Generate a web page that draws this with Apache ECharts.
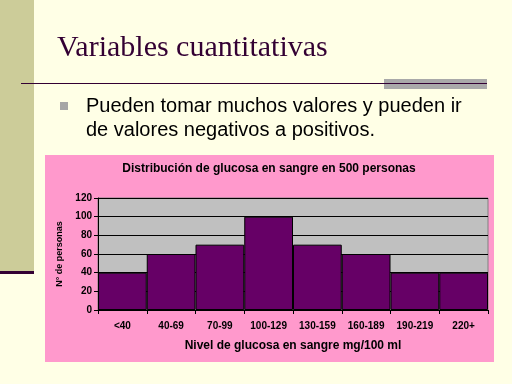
<!DOCTYPE html>
<html>
<head>
<meta charset="utf-8">
<script src="https://cdn.jsdelivr.net/npm/echarts@6/dist/echarts.min.js"></script>
<style>html,body{margin:0;padding:0;background:#ffffe6;}#c{width:512px;height:384px;}</style>
</head>
<body>
<div id="c"></div>
<script>
var categories = ['<40', '40-69', '70-99', '100-129', '130-159', '160-189', '190-219', '220+'];
var counts = [40, 60, 70, 100, 70, 60, 40, 40];
var yTicks = [0, 20, 40, 60, 80, 100, 120];
var slideTitle = 'Variables cuantitativas';
var bulletLines = ['Pueden tomar muchos valores y pueden ir', 'de valores negativos a positivos.'];
var chartTitle = 'Distribución de glucosa en sangre en 500 personas';
var xName = 'Nivel de glucosa en sangre mg/100 ml';
var yName = 'N° de personas';

var chart = echarts.init(document.getElementById('c'), null, {renderer: 'canvas'});
chart.setOption({
  backgroundColor: '#ffffe6',
  animation: false,
  graphic: [
    {type: 'rect', z: -100, shape: {x: 0, y: 0, width: 34, height: 272}, style: {fill: '#cccc99'}},
    {type: 'rect', z: -99, shape: {x: 0, y: 271, width: 34, height: 3}, style: {fill: '#330033'}},
    {type: 'rect', z: -99, shape: {x: 384, y: 79, width: 103, height: 10}, style: {fill: '#a9a9a9'}},
    {type: 'line', z: -98, shape: {x1: 21, y1: 83.5, x2: 487, y2: 83.5}, style: {stroke: '#330033', lineWidth: 1}},
    {type: 'text', z: -98, style: {x: 57, y: 48, text: slideTitle, font: '30px "Liberation Serif", "Times New Roman", serif', fill: '#330033', verticalAlign: 'middle', textVerticalAlign: 'middle'}},
    {type: 'rect', z: -98, shape: {x: 60, y: 102, width: 8, height: 8}, style: {fill: '#a6a6a6'}},
    {type: 'text', z: -98, style: {x: 86, y: 106, text: bulletLines[0], font: '20px "Liberation Sans", Arial, sans-serif', fill: '#000', verticalAlign: 'middle', textVerticalAlign: 'middle'}},
    {type: 'text', z: -98, style: {x: 86, y: 130, text: bulletLines[1], font: '20px "Liberation Sans", Arial, sans-serif', fill: '#000', verticalAlign: 'middle', textVerticalAlign: 'middle'}},
    {type: 'rect', z: -97, shape: {x: 45, y: 155, width: 449, height: 207}, style: {fill: '#ff99cc'}},
    {type: 'text', z: -96, style: {x: 269, y: 169, text: chartTitle, font: 'bold 12px "Liberation Sans", Arial, sans-serif', fill: '#000', align: 'center', verticalAlign: 'middle', textAlign: 'center', textVerticalAlign: 'middle'}}
  ],
  grid: {left: 98, right: 24, top: 198, bottom: 74, show: true, backgroundColor: '#c0c0c0', borderColor: '#808080', borderWidth: 1, z: 2},
  xAxis: {
    type: 'category',
    data: categories,
    z: 3,
    name: xName,
    nameLocation: 'middle',
    nameGap: 30,
    nameTextStyle: {fontFamily: '"Liberation Sans", Arial, sans-serif', fontWeight: 'bold', fontSize: 12, color: '#000'},
    axisLine: {lineStyle: {color: '#000', width: 1}},
    axisTick: {show: true, length: 4, lineStyle: {color: '#000'}},
    axisLabel: {fontFamily: '"Liberation Sans", Arial, sans-serif', fontWeight: 'bold', fontSize: 10, color: '#000', margin: 11, interval: 0}
  },
  yAxis: {
    type: 'value',
    min: 0, max: 120, interval: 20,
    z: 3,
    name: yName,
    nameLocation: 'middle',
    nameGap: 28,
    nameRotate: 90,
    nameTextStyle: {fontFamily: '"Liberation Sans", Arial, sans-serif', fontWeight: 'bold', fontSize: 9, color: '#000'},
    axisLine: {show: true, lineStyle: {color: '#000', width: 1}},
    axisTick: {show: true, length: 4, lineStyle: {color: '#000'}},
    axisLabel: {fontFamily: '"Liberation Sans", Arial, sans-serif', fontWeight: 'bold', fontSize: 10, color: '#000', margin: 6,
      formatter: function (v) { return yTicks.indexOf(v) >= 0 ? String(v) : ''; }},
    splitLine: {show: true, lineStyle: {color: '#000', width: 1}}
  },
  series: [{
    type: 'bar',
    data: counts,
    barCategoryGap: '0%',
    z: 4,
    itemStyle: {color: '#660066', borderColor: '#000', borderWidth: 1}
  }]
});
</script>
</body>
</html>
